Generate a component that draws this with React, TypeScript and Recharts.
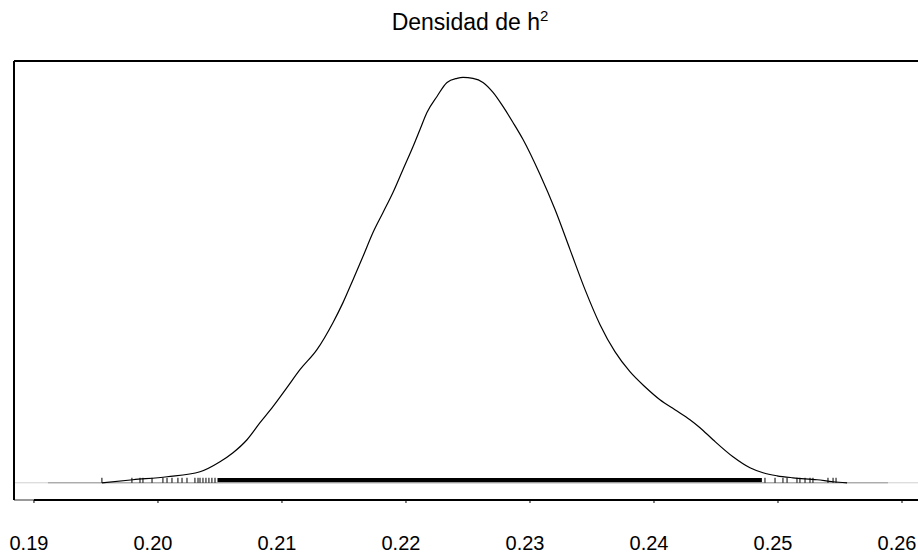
import React from 'react';
import {
  ComposedChart,
  Line,
  Scatter,
  XAxis,
  YAxis,
  ReferenceLine,
  ReferenceArea,
} from 'recharts';

// density curve (x = h2 value, y = density, arbitrary units)
const curveX = [
  0.19548, 0.19798, 0.20073, 0.20339, 0.205, 0.20605, 0.20718, 0.20823, 0.20927, 0.2104,
  0.21145, 0.21282, 0.21411, 0.21492, 0.21573, 0.21653, 0.21734, 0.21815, 0.21895, 0.21976,
  0.22057, 0.22113, 0.22169, 0.2225, 0.22331, 0.22411, 0.2246, 0.2254, 0.22621, 0.22702,
  0.22782, 0.22863, 0.22944, 0.23081, 0.23202, 0.23323, 0.23444, 0.23565, 0.23685, 0.23806,
  0.23927, 0.24048, 0.24169, 0.2429, 0.24371, 0.24476, 0.24637, 0.24774, 0.24879, 0.24992,
  0.25121, 0.25315, 0.25444, 0.25557,
];
const curveY = [
  0, 0.035, 0.07, 0.128, 0.244, 0.349, 0.5, 0.698, 0.884, 1.105,
  1.314, 1.547, 1.86, 2.093, 2.36, 2.628, 2.907, 3.14, 3.372, 3.64,
  3.907, 4.105, 4.302, 4.488, 4.651, 4.698, 4.709, 4.698, 4.651, 4.535,
  4.372, 4.186, 3.988, 3.581, 3.174, 2.709, 2.244, 1.837, 1.523, 1.291,
  1.116, 0.965, 0.849, 0.733, 0.64, 0.5, 0.302, 0.174, 0.116, 0.081,
  0.058, 0.035, 0.012, 0,
];

// rug marks in the thin tails, and the solid band between them
const rugTicks = [
  0.19548, 0.1979, 0.19855, 0.19879, 0.19952, 0.2004, 0.20073, 0.20113, 0.20161, 0.20194,
  0.20234, 0.20298, 0.20323, 0.20339, 0.20363, 0.20387, 0.20411, 0.20435, 0.2046,
  0.24895, 0.24976, 0.2504, 0.25073, 0.25153, 0.25177, 0.25218, 0.25258, 0.25282, 0.25403,
  0.25444, 0.25468,
];
const rugBand = [0.2048, 0.2487];

const xTicks = [0.19, 0.2, 0.21, 0.22, 0.23, 0.24, 0.25, 0.26];
const yTicks = [0, 1, 2, 3, 4];

const X_MIN = 0.18839;
const X_MAX = 0.26129;
const Y_MIN = -0.2;
const Y_MAX = 4.9;

const curve = curveX.map((x, i) => ({ x, d: curveY[i] }));
const rug = rugTicks.map((x) => ({ x, d: 0 }));

const RugMark = (props: any) => {
  const { cx, cy } = props;
  return <line x1={cx} x2={cx} y1={cy - 5} y2={cy} stroke="#000" strokeWidth={1} />;
};

const font = '"Liberation Sans", Arial, sans-serif';

const App = () => {
  return (
    <div style={{ position: 'absolute', left: 0, top: 0, width: 918, height: 556, background: '#fff' }}>
      <div
        style={{
          position: 'absolute',
          left: 0,
          width: 940,
          top: 7,
          textAlign: 'center',
          fontFamily: font,
          fontSize: 23,
          color: '#000',
        }}
      >
        Densidad de h<sup style={{ fontSize: 15 }}>2</sup>
      </div>
      <ComposedChart width={918} height={556} margin={{ top: 61, right: 0, bottom: 0, left: 13 }}>
        <XAxis
          dataKey="x"
          type="number"
          domain={[X_MIN, X_MAX]}
          allowDataOverflow
          ticks={xTicks}
          tickFormatter={(v: number) => v.toFixed(2)}
          axisLine={false}
          tickLine={{ stroke: '#000' }}
          tickSize={3}
          tickMargin={33}
          height={56}
          interval={0}
          tick={{ fill: '#000', fontSize: 20, fontFamily: font, dx: -5 }}
        />
        <YAxis
          type="number"
          domain={[Y_MIN, Y_MAX]}
          allowDataOverflow
          ticks={yTicks}
          width={1}
          tick={false}
          tickSize={2}
          tickLine={{ stroke: '#000' }}
          axisLine={{ stroke: '#000', strokeWidth: 2 }}
        />
        <ReferenceLine y={Y_MAX} stroke="#000" strokeWidth={2} ifOverflow="visible" />
        <ReferenceLine
          segment={[{ x: X_MIN, y: Y_MIN }, { x: 0.19, y: Y_MIN }]}
          stroke="#999"
          strokeWidth={2}
          ifOverflow="visible"
        />
        <ReferenceLine
          segment={[{ x: 0.19, y: Y_MIN }, { x: X_MAX, y: Y_MIN }]}
          stroke="#000"
          strokeWidth={2}
          ifOverflow="visible"
        />
        <ReferenceLine y={0} stroke="#d0d0d0" strokeWidth={1} />
        <ReferenceLine
          segment={[{ x: 0.19113, y: 0 }, { x: 0.25887, y: 0 }]}
          stroke="#999"
          strokeWidth={1}
        />
        <ReferenceArea
          x1={rugBand[0]}
          x2={rugBand[1]}
          y1={0}
          y2={0.055}
          fill="#000"
          fillOpacity={1}
          stroke="none"
        />
        <Scatter data={rug} dataKey="d" shape={<RugMark />} isAnimationActive={false} />
        <Line
          data={curve}
          dataKey="d"
          type="monotone"
          dot={false}
          stroke="#000"
          strokeWidth={1.2}
          isAnimationActive={false}
        />
      </ComposedChart>
    </div>
  );
};

export default App;
